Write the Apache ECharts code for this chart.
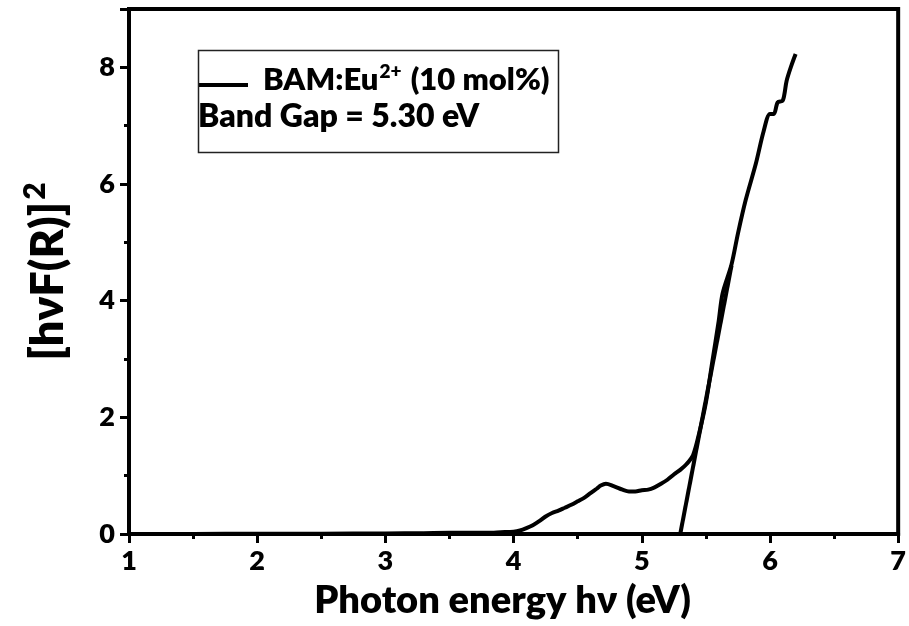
<!DOCTYPE html>
<html>
<head>
<meta charset="utf-8">
<script src="https://cdn.jsdelivr.net/npm/echarts@6/dist/echarts.min.js"></script>
<style>
  html, body { margin: 0; padding: 0; background: #fff; }
  #chart { width: 909px; height: 626px; }
</style>
</head>
<body>
<div id="chart"></div>
<script>
// Photon energy (eV) and Kubelka-Munk transform [hv F(R)]^2
const energy = [1.0, 1.5, 2.0, 2.5, 3.0, 3.3, 3.5, 3.7, 3.8, 3.9, 4.0, 4.05, 4.1, 4.15, 4.2, 4.25, 4.3, 4.35, 4.4, 4.45,
  4.5, 4.55, 4.6, 4.65, 4.68, 4.72, 4.78, 4.85, 4.9, 4.95, 5.0, 5.05, 5.1, 5.15, 5.2, 5.25, 5.3, 5.35, 5.4, 5.45,
  5.5, 5.55, 5.6, 5.63, 5.7, 5.75, 5.81, 5.89, 5.95, 6.0, 6.03, 6.06, 6.1, 6.13, 6.17, 6.2];
const khm = [0.0, 0.0, 0.005, 0.005, 0.01, 0.015, 0.02, 0.02, 0.02, 0.03, 0.04, 0.06, 0.1, 0.15, 0.22, 0.3, 0.36, 0.4, 0.45, 0.5,
  0.56, 0.62, 0.7, 0.78, 0.83, 0.86, 0.82, 0.76, 0.73, 0.73, 0.75, 0.76, 0.8, 0.86, 0.93, 1.02, 1.1, 1.2, 1.35, 1.75,
  2.25, 2.95, 3.65, 4.12, 4.62, 5.15, 5.72, 6.35, 6.9, 7.2, 7.2, 7.4, 7.43, 7.77, 8.05, 8.23];

// Linear extrapolation of the absorption edge to the energy axis
const fitX = [5.30, 5.70];
const fitY = [0.0, 4.6];

const xTicks = ['1', '2', '3', '4', '5', '6', '7'];
const yTicks = ['0', '2', '4', '6', '8'];

const seriesName = 'BAM:Eu2+ (10 mol%)';
const gapText = 'Band Gap = 5.30 eV';

const FONT = 'Lato, "Open Sans", sans-serif';
const W = 800;

const chart = echarts.init(document.getElementById('chart'), null, { renderer: 'canvas' });

const tickStyle = { color: '#000', width: 3 };

chart.setOption({
  backgroundColor: '#ffffff',
  animation: false,
  grid: {
    left: 129, right: 9, top: 9, bottom: 92,
    show: true, borderColor: '#000', borderWidth: 4, backgroundColor: 'transparent'
  },
  xAxis: {
    type: 'value', min: 1, max: 7, interval: 1,
    name: 'Photon energy hν (eV)', nameLocation: 'middle', nameGap: 48,
    nameTextStyle: { fontFamily: FONT, fontWeight: W, fontSize: 38, color: '#000', padding: [0, 22, 0, 0] },
    axisLine: { onZero: false, lineStyle: { color: '#000', width: 4 } },
    axisTick: { show: true, inside: false, length: 9, lineStyle: tickStyle },
    minorTick: { show: true, splitNumber: 2, length: 5, lineStyle: tickStyle },
    splitLine: { show: false },
    axisLabel: {
      fontFamily: FONT, fontWeight: W, fontSize: 27, color: '#000', margin: 14,
      formatter: v => xTicks[Math.round(v) - 1]
    }
  },
  yAxis: {
    type: 'value', min: 0, max: 9, interval: 2,
    name: '{b|[hνF(R)]}{s|2}', nameLocation: 'middle', nameGap: 53, nameRotate: 90,
    nameTextStyle: {
      rich: {
        b: { fontFamily: FONT, fontWeight: W, fontSize: 45, color: '#000' },
        s: { fontFamily: FONT, fontWeight: W, fontSize: 30, color: '#000', verticalAlign: 'top', padding: [0, 0, 26, 2] }
      }
    },
    axisLine: { onZero: false, lineStyle: { color: '#000', width: 4 } },
    axisTick: { show: true, inside: false, length: 9, lineStyle: tickStyle },
    minorTick: { show: true, splitNumber: 2, length: 5, lineStyle: tickStyle },
    splitLine: { show: false },
    axisLabel: {
      fontFamily: FONT, fontWeight: W, fontSize: 27, color: '#000', margin: 14,
      formatter: v => (v % 2 === 0 && v <= 8 ? yTicks[v / 2] : '')
    }
  },
  legend: {
    show: true,
    left: 194, top: 57,
    data: [{ name: seriesName, icon: 'rect' }],
    itemWidth: 49, itemHeight: 4, itemGap: 0,
    selectedMode: false,
    formatter: () => '{sp|}{t|BAM:Eu}{s|2+}{t| (10 mol%)}',
    textStyle: {
      padding: [0, 0, 10, 0],
      rich: {
        sp: { width: 10 },
        t: { fontFamily: FONT, fontWeight: W, fontSize: 31, color: '#000' },
        s: { fontFamily: FONT, fontWeight: W, fontSize: 19, color: '#000', verticalAlign: 'top', padding: [0, 2, 17, 1] }
      }
    }
  },
  graphic: [
    {
      type: 'rect', left: 196, top: 48, z: 100,
      shape: { width: 360, height: 102 },
      style: { fill: 'none', stroke: '#222', lineWidth: 1.5 }
    },
    {
      type: 'text', left: 198, top: 101, z: 100,
      style: { text: gapText, fill: '#000', font: W + ' 32px ' + FONT }
    }
  ],
  series: [
    {
      name: seriesName,
      type: 'line',
      data: energy.map((e, i) => [e, khm[i]]),
      showSymbol: false,
      smooth: 0.3,
      lineStyle: { color: '#000', width: 4 },
      itemStyle: { color: '#000' }
    },
    {
      name: 'fit',
      type: 'line',
      data: fitX.map((e, i) => [e, fitY[i]]),
      showSymbol: false,
      lineStyle: { color: '#000', width: 4 },
      itemStyle: { color: '#000' }
    }
  ]
});
</script>
</body>
</html>
